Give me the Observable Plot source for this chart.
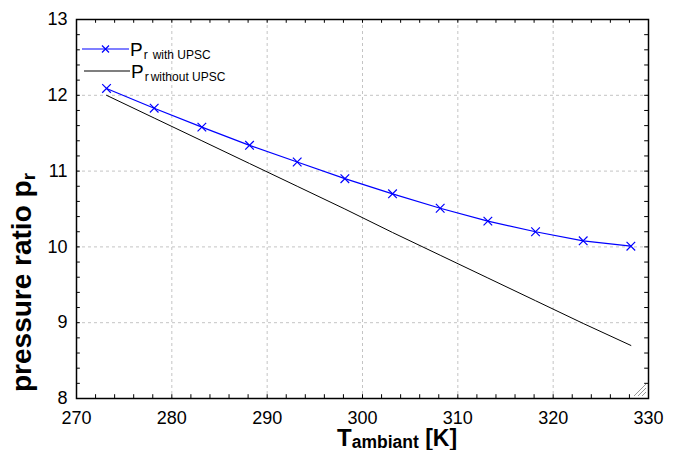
<!DOCTYPE html>
<html>
<head>
<meta charset="utf-8">
<script src="https://cdn.jsdelivr.net/npm/d3@7"></script>
<script src="https://cdn.jsdelivr.net/npm/@observablehq/plot@0.6"></script>
<style>
  html, body { margin: 0; padding: 0; background: #fff; }
  #wrap { position: relative; width: 676px; height: 450px; font-family: "Liberation Sans", Arial, sans-serif; }
</style>
</head>
<body>
<div id="wrap"></div>
<script>
// Data
const temperature = [273.15, 278.15, 283.15, 288.15, 293.15, 298.15, 303.15, 308.15, 313.15, 318.15, 323.15, 328.15];
const prWithUPSC = [12.09, 11.83, 11.58, 11.34, 11.12, 10.90, 10.70, 10.51, 10.34, 10.20, 10.08, 10.01];
const prWithoutUPSC = [12.00, 11.70, 11.40, 11.10, 10.80, 10.50, 10.19, 9.89, 9.59, 9.29, 8.99, 8.70];
const xTicks = [270, 280, 290, 300, 310, 320, 330];
const yTicks = [8, 9, 10, 11, 12, 13];
const xGrid = [280, 290, 300, 310, 320];
const yGrid = [9, 10, 11, 12];
const xMinor = d3.range(270, 331, 2);
const yMinor = d3.range(0, 26).map(i => +(8 + i * 0.2).toFixed(1));
const seriesLabels = ["with UPSC", "without UPSC"];

const withData = temperature.map((t, i) => ({t, p: prWithUPSC[i]}));
const withoutData = temperature.map((t, i) => ({t, p: prWithoutUPSC[i]}));

const blue = "#0000ff";
const grid = {stroke: "#c4c4c4", strokeOpacity: 1, strokeDasharray: "3,3"};
const FONT = "'Liberation Sans', Arial, sans-serif";

const plot = Plot.plot({
  width: 676,
  height: 450,
  marginLeft: 76,
  marginRight: 28,
  marginTop: 19,
  marginBottom: 52,
  style: {fontFamily: FONT, background: "#fff", overflow: "visible"},
  x: {domain: [270, 330]},
  y: {domain: [8, 13]},
  marks: [
    Plot.gridX(xGrid, grid),
    Plot.gridY(yGrid, grid),
    // inward minor ticks on all sides
    Plot.ruleX(xMinor, {y1: 8, y2: 8.05, stroke: "#000"}),
    Plot.ruleX(xMinor, {y1: 12.95, y2: 13, stroke: "#000"}),
    Plot.ruleY(yMinor, {x1: 270, x2: 270.4, stroke: "#000"}),
    Plot.ruleY(yMinor, {x1: 329.6, x2: 330, stroke: "#000"}),
    Plot.axisX(xTicks, {tickSize: 0, tickPadding: 13, fontSize: 18, fill: "#000", label: null, tickFormat: d => String(d)}),
    Plot.axisY(yTicks, {tickSize: 0, tickPadding: 9, fontSize: 18, fill: "#000", label: null, tickFormat: d => String(d)}),
    Plot.line(withoutData, {x: "t", y: "p", stroke: "#000", strokeWidth: 1}),
    Plot.line(withData, {x: "t", y: "p", stroke: blue, strokeWidth: 1.2}),
    Plot.dot(withData, {x: "t", y: "p", symbol: "times", r: 4, stroke: blue, strokeWidth: 1.2}),
    Plot.frame({stroke: "#000", strokeWidth: 1.5})
  ]
});

const wrap = document.getElementById("wrap");
wrap.appendChild(plot);

// Overlay for titles and legend
const ns = "http://www.w3.org/2000/svg";
const o = document.createElementNS(ns, "svg");
o.setAttribute("width", 676);
o.setAttribute("height", 450);
o.style.position = "absolute";
o.style.left = "0";
o.style.top = "0";
o.style.pointerEvents = "none";
o.setAttribute("font-family", FONT);
wrap.appendChild(o);

function el(tag, attrs, parent) {
  const e = document.createElementNS(ns, tag);
  for (const k in attrs) e.setAttribute(k, attrs[k]);
  (parent || o).appendChild(e);
  return e;
}
function tspan(parent, text, attrs) {
  const t = el("tspan", attrs, parent);
  t.textContent = text;
  return t;
}

// X title: T_ambiant [K]
const xt = el("text", {x: 337, y: 446, "font-weight": "bold", fill: "#000"});
tspan(xt, "T", {"font-size": 24});
tspan(xt, "ambiant", {"font-size": 17.5, dy: 1.5});
tspan(xt, " [K]", {"font-size": 23, dy: -1.5});

// Y title: pressure ratio p_r (rotated)
const yt = el("text", {transform: "translate(31,392) rotate(-90)", "font-weight": "bold", fill: "#000"});
tspan(yt, "pressure ratio p", {"font-size": 28});
tspan(yt, "r", {"font-size": 19, dy: 4});

// Legend
const legendItems = [
  {label: seriesLabels[0], color: blue, marker: true, y: 49, x0: 82, x1: 129},
  {label: seriesLabels[1], color: "#000", marker: false, y: 71, x0: 84, x1: 130}
];
legendItems.forEach(it => {
  el("line", {x1: it.x0, x2: it.x1, y1: it.y, y2: it.y, stroke: it.color, "stroke-width": 1.2});
  if (it.marker) {
    const cx = (it.x0 + it.x1) / 2, cy = it.y, r = 3.5;
    el("path", {d: `M${cx - r},${cy - r}L${cx + r},${cy + r}M${cx - r},${cy + r}L${cx + r},${cy - r}`, stroke: it.color, "stroke-width": 1.2});
  }
  const t = el("text", {x: it.x1 + 1, y: it.y + 7, fill: "#000"});
  tspan(t, "P", {"font-size": 19});
  tspan(t, "r", {"font-size": 12, dy: 3, dx: 1});
  tspan(t, it.label, {"font-size": 12, dx: it.marker ? 5 : 2});
});

// Resize grip in bottom-right corner
[4, 8, 12].forEach(k => {
  el("line", {x1: 646, y1: 396 - k, x2: 646 - k, y2: 396, stroke: "#999", "stroke-width": 1});
});
</script>
</body>
</html>
